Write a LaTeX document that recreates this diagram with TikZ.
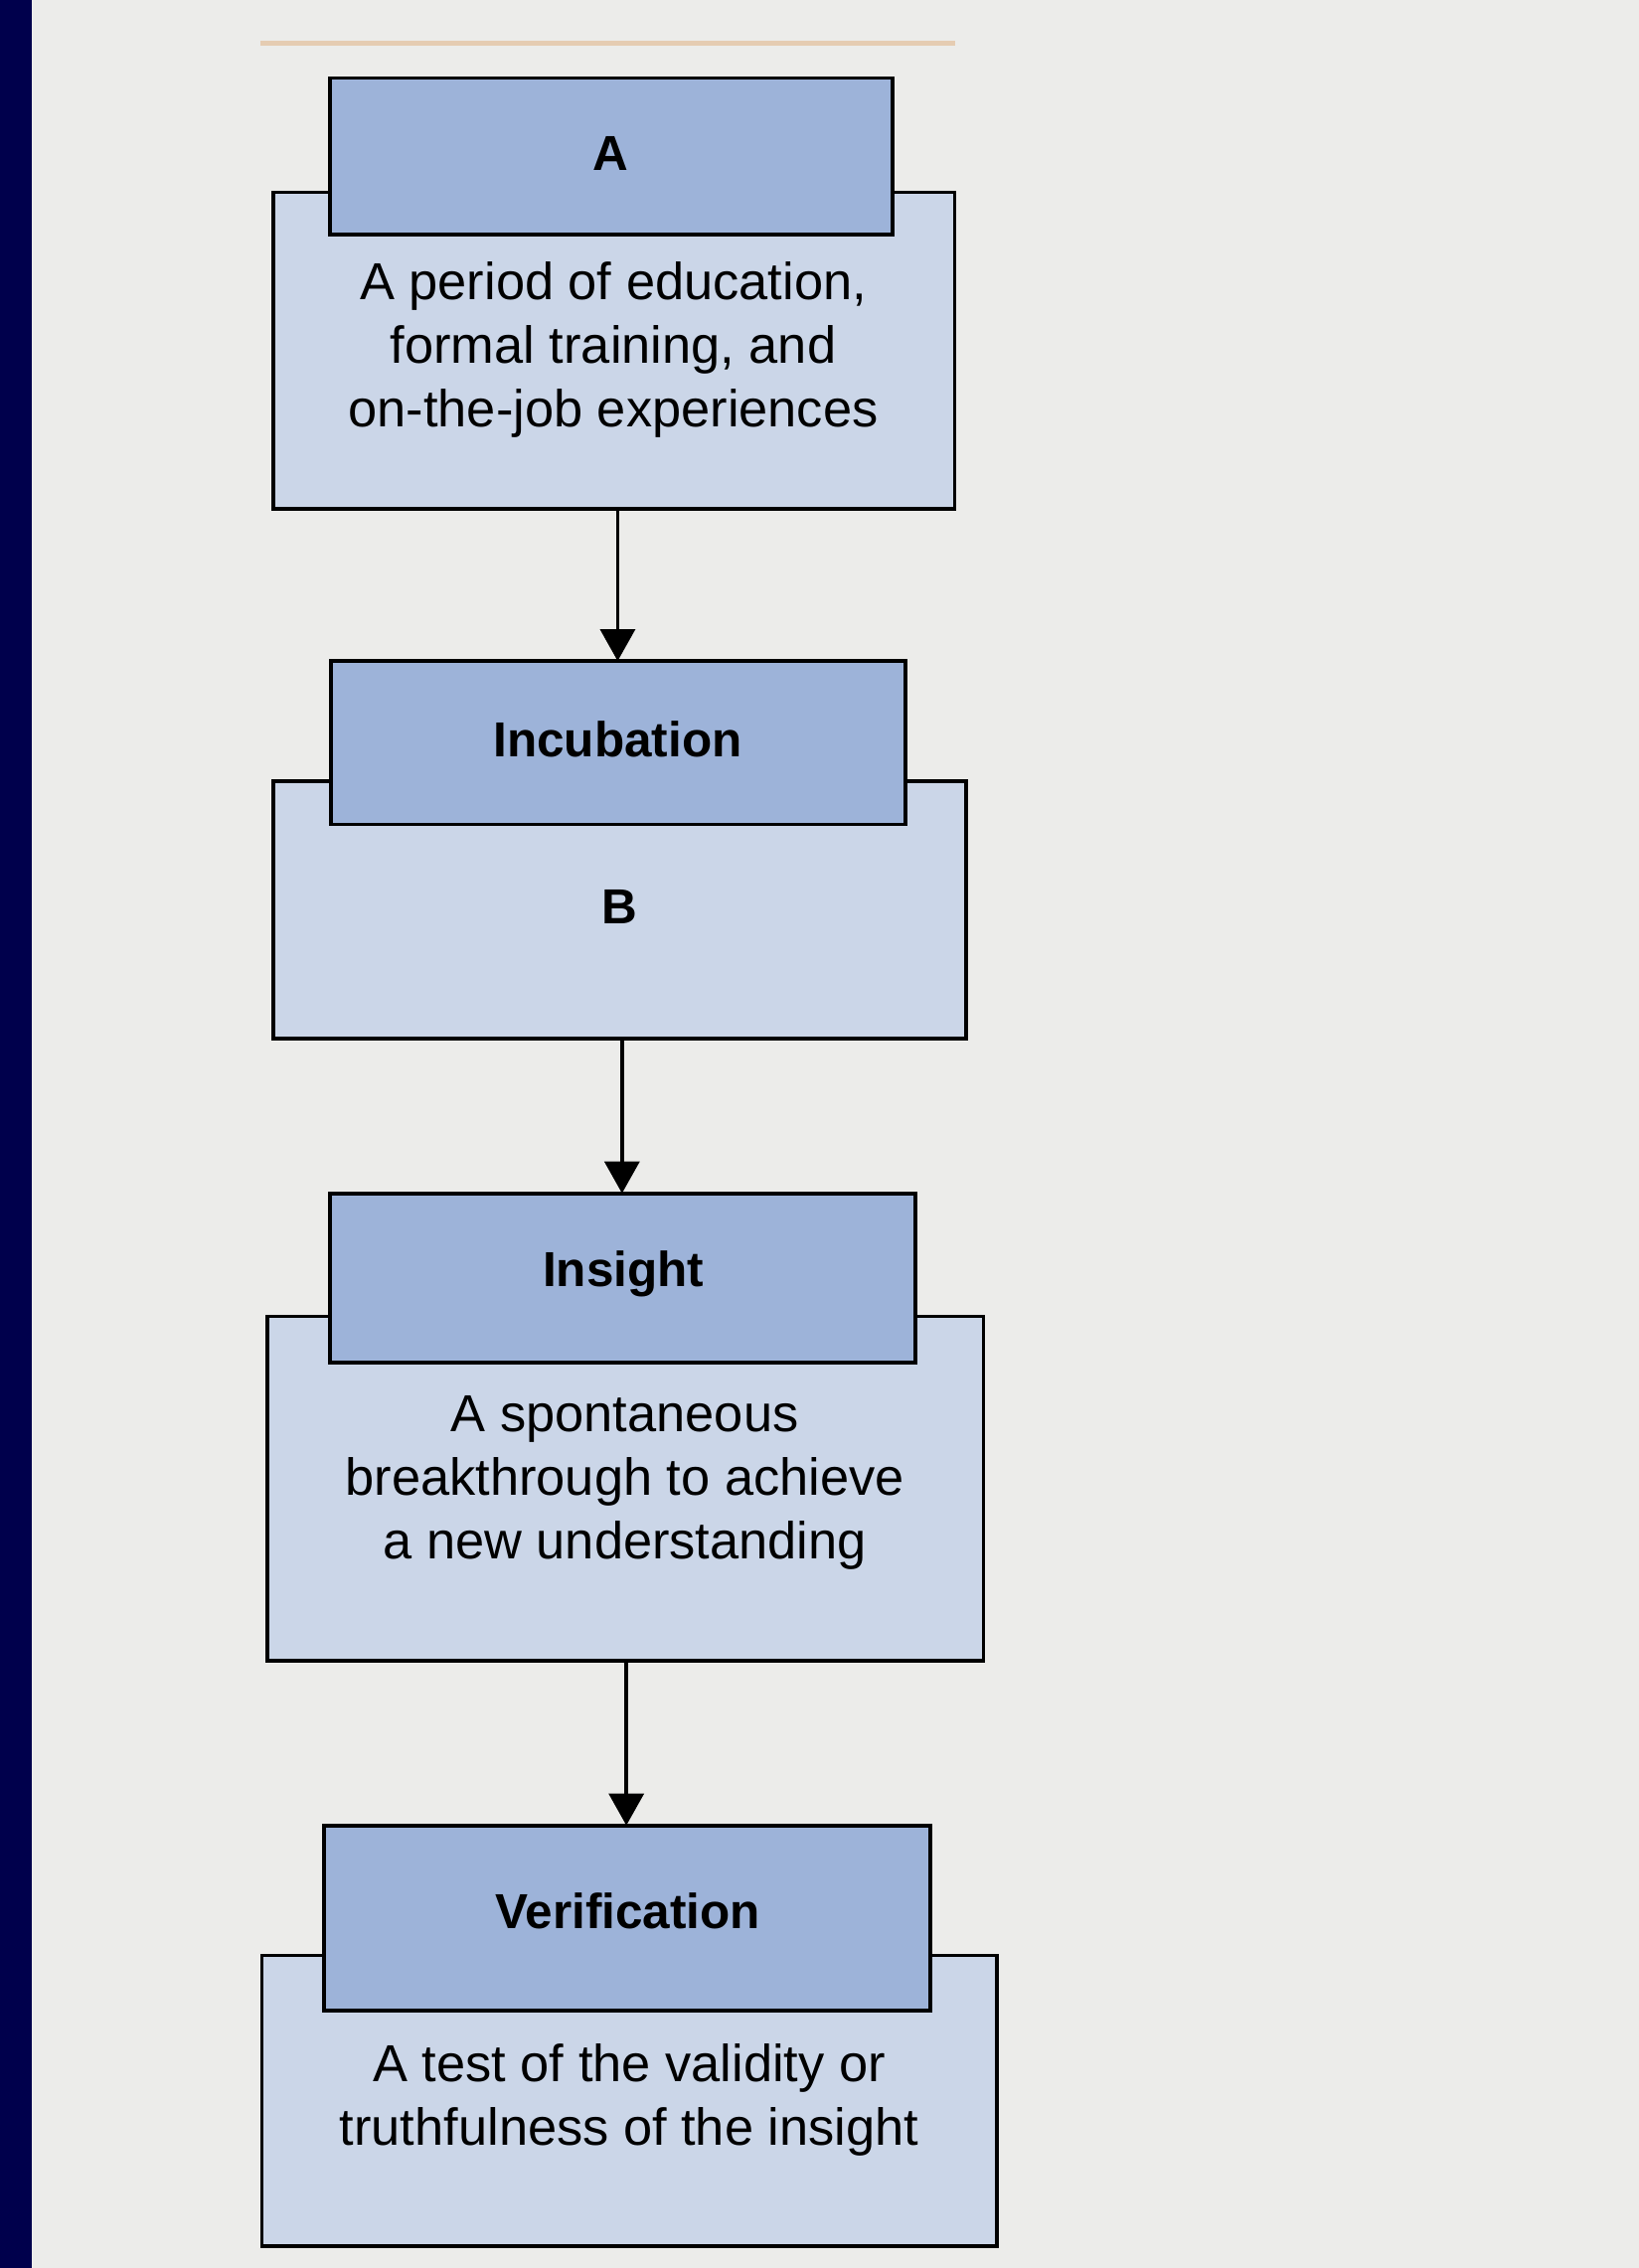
\documentclass[tikz,border=0pt]{standalone}
\usepackage{fontspec}
\setmainfont{Liberation Sans}
\usetikzlibrary{arrows.meta}
\definecolor{hdr}{HTML}{9DB3D9}
\definecolor{bdy}{HTML}{CBD6E8}
\definecolor{bg}{HTML}{ECECEA}
\tikzset{
 hdrbox/.style={draw=black,line width=2.5pt,fill=hdr},
 bdybox/.style={draw=black,line width=2.5pt,fill=bdy},
 lbl/.style={font=\fontsize{34}{40}\selectfont\bfseries,inner sep=0},
 txt/.style={font=\fontsize{36}{44}\selectfont,align=center,inner sep=0},
 arr/.style={line width=2.5pt,-{Triangle[length=22pt,width=24pt]}}
}
\begin{document}
\begin{tikzpicture}[x=1pt,y=-1pt]
\fill[bg] (0,0) rectangle (1133,1568);
\useasboundingbox (0,0) rectangle (1133,1568);
\fill[blue!30!black] (0,0) rectangle (22,1568);
\draw[line width=3pt,color=brown!40] (180,30) -- (660,30);
% A
\draw[bdybox] (189,133) rectangle (660,352);
\draw[hdrbox] (228,54) rectangle (617,162);
\node[lbl] (ha) at (422,106) {A};
\node[txt] (ta) at (424,242) {A period of education,\\formal training, and\\on-the-job experiences};
% Incubation
\draw[bdybox] (189,540) rectangle (668,718);
\draw[hdrbox] (229,457) rectangle (626,570);
\node[lbl] (hb) at (427,511) {Incubation};
\node[lbl] (tb) at (428,627) {B};
% Insight
\draw[bdybox] (185,910) rectangle (680,1148);
\draw[hdrbox] (228,825) rectangle (633,942);
\node[lbl] (hc) at (431,881) {Insight};
\node[txt] (tc) at (432,1025) {A spontaneous\\breakthrough to achieve\\a new understanding};
% Verification
\draw[bdybox] (181,1352) rectangle (689,1553);
\draw[hdrbox] (224,1262) rectangle (643,1390);
\node[lbl] (hd) at (434,1321) {Verification};
\node[txt] (td) at (435,1452) {A test of the validity or\\truthfulness of the insight};
\coordinate (a1) at (427,352); \coordinate (a2) at (427,457);
\coordinate (b1) at (430,718); \coordinate (b2) at (430,825);
\coordinate (c1) at (433,1148); \coordinate (c2) at (433,1262);
\draw[arr] (a1) -- (a2);
\draw[arr] (b1) -- (b2);
\draw[arr] (c1) -- (c2);
\end{tikzpicture}
\end{document}
